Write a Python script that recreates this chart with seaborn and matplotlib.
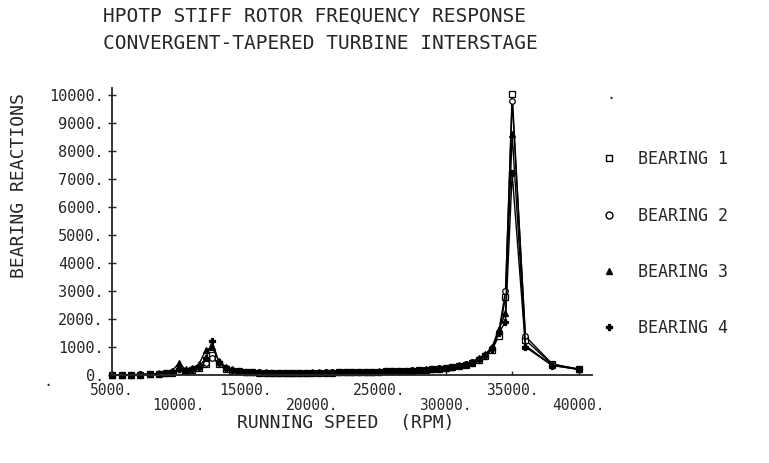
import seaborn as sns
import pandas as pd
import matplotlib
matplotlib.use("Agg")
import matplotlib.pyplot as plt
from matplotlib.lines import Line2D

# running speed grid (rpm)
rpm = [5000, 5700, 6400, 7100, 7800,
       8500, 9000, 9500, 10000, 10500, 11000, 11500, 12000, 12500, 13000, 13500, 14000,
       14500, 15000, 15500, 16000,
       16500, 17000, 17500, 18000, 18500, 19000, 19500, 20000, 20500, 21000, 21500,
       22000, 22500, 23000, 23500, 24000, 24500, 25000, 25500, 26000, 26500, 27000,
       27500, 28000, 28500, 29000, 29500, 30000, 30500, 31000, 31500, 32000, 32500,
       33000, 33500, 34000, 34500,
       35000, 36000, 38000, 40000]

# bearing reactions
bearing_1 = [0, 5, 10, 15, 25,
             40, 60, 90, 160, 130, 180, 260, 380, 700, 380, 220, 160,
             130, 110, 100, 90,
             85, 80, 80, 75, 75, 80, 80, 85, 85, 90, 90,
             95, 100, 100, 105, 110, 115, 120, 130, 135, 145, 150,
             160, 175, 190, 205, 225, 250, 280, 320, 370, 440, 540,
             680, 900, 1400, 2800,
             10050, 1250, 380, 220]
bearing_2 = [0, 5, 10, 20, 30,
             50, 70, 110, 200, 150, 210, 300, 420, 600, 420, 260, 180,
             140, 120, 105, 95,
             90, 85, 85, 80, 80, 85, 85, 90, 90, 95, 95,
             100, 105, 105, 110, 115, 120, 125, 135, 140, 150, 155,
             165, 180, 195, 215, 235, 260, 295, 340, 390, 470, 580,
             720, 960, 1550, 3000,
             9800, 1380, 400, 200]
bearing_3 = [0, 5, 10, 20, 35,
             60, 90, 160, 420, 200, 260, 380, 880, 1000, 500, 300, 200,
             150, 125, 110, 100,
             95, 90, 90, 85, 85, 90, 90, 95, 95, 100, 100,
             105, 110, 110, 115, 120, 125, 130, 140, 145, 155, 160,
             170, 185, 200, 220, 240, 265, 300, 345, 400, 480, 600,
             750, 1000, 1650, 2200,
             8600, 1050, 350, 200]
bearing_4 = [0, 5, 10, 15, 25,
             45, 65, 100, 220, 140, 190, 280, 600, 1200, 450, 250, 170,
             130, 110, 100, 90,
             85, 80, 80, 75, 75, 80, 80, 85, 85, 90, 90,
             95, 100, 100, 105, 110, 115, 120, 128, 133, 142, 148,
             158, 172, 186, 205, 225, 248, 278, 318, 365, 440, 545,
             690, 930, 1500, 1900,
             7200, 1000, 340, 200]

labels = ["BEARING 1", "BEARING 2", "BEARING 3", "BEARING 4"]
x_ticks = [5000, 10000, 15000, 20000, 25000, 30000, 35000, 40000]
y_ticks = [0, 1000, 2000, 3000, 4000, 5000, 6000, 7000, 8000, 9000, 10000]


def main():
    df = pd.DataFrame({
        "rpm": rpm * 4,
        "reaction": bearing_1 + bearing_2 + bearing_3 + bearing_4,
        "bearing": [lab for lab in labels for _ in rpm],
    })

    sns.set_style("ticks")
    plt.rcParams["font.family"] = ["DejaVu Sans Mono", "DejaVu Sans"]

    fig = plt.figure(figsize=(7.69, 4.63), dpi=100)
    ax = fig.add_axes([0.146, 0.19, 0.624, 0.62])

    markers = {"BEARING 1": "s", "BEARING 2": "o", "BEARING 3": "^", "BEARING 4": "P"}
    palette = {lab: "black" for lab in labels}
    sns.lineplot(data=df, x="rpm", y="reaction", hue="bearing", style="bearing",
                 markers=markers, dashes=False, palette=palette, ax=ax,
                 linewidth=1.0, markersize=4, markerfacecolor="white",
                 markeredgecolor="black", markeredgewidth=0.9,
                 legend=False, clip_on=False, sort=False)
    # filled triangles / plus like the original
    for line, lab in zip(ax.lines, labels):
        if lab in ("BEARING 3", "BEARING 4"):
            line.set_markerfacecolor("black")

    ax.set_xlim(5000, 41000)
    ax.set_ylim(0, 10250)
    sns.despine(ax=ax)

    ax.set_xticks(x_ticks)
    ax.set_xticklabels([("" if i % 2 == 0 else "\n") + f"{v}." for i, v in enumerate(x_ticks)],
                       linespacing=1.0)
    ax.set_yticks(y_ticks)
    ax.set_yticklabels([f"{v}." for v in y_ticks])
    ax.tick_params(axis="y", labelsize=11, direction="inout", length=6, width=1, pad=3)
    ax.tick_params(axis="x", labelsize=10.5, direction="in", length=3, width=1, pad=6)
    ax.set_xlabel("")
    ax.set_ylabel("")
    for sp in ax.spines.values():
        sp.set_linewidth(1.3)

    fig.text(0.134, 0.965, "HPOTP STIFF ROTOR FREQUENCY RESPONSE", fontsize=14, va="center")
    fig.text(0.134, 0.905, "CONVERGENT-TAPERED TURBINE INTERSTAGE", fontsize=14, va="center")
    fig.text(0.025, 0.6, "BEARING REACTIONS", fontsize=13, rotation=90, ha="center", va="center")
    fig.text(0.449, 0.086, "RUNNING SPEED  (RPM)", fontsize=13, ha="center", va="center")
    fig.text(0.062, 0.175, ".", fontsize=11, ha="center", va="center")
    fig.text(0.794, 0.795, ".", fontsize=11, ha="center", va="center")

    handles = [Line2D([], [], linestyle="none", marker=markers[lab], color="black",
                      markerfacecolor="white" if lab in ("BEARING 1", "BEARING 2") else "black",
                      markersize=5) for lab in labels]
    fig.legend(handles, labels, loc="upper left", bbox_to_anchor=(0.762, 0.708),
               frameon=False, fontsize=12, handlelength=1.0, handletextpad=1.2,
               labelspacing=2.3)

    plt.savefig("out.png", dpi=100)


if __name__ == "__main__":
    main()
